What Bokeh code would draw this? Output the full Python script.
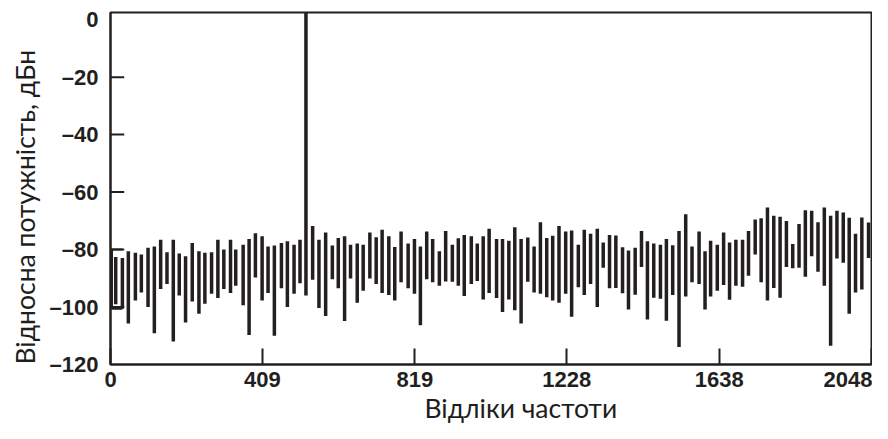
from bokeh.plotting import figure
from bokeh.models import Range1d, FixedTicker, Title
from bokeh.embed import file_html
from bokeh.resources import INLINE

# ---- data ----
freq = [14, 32, 48, 67, 83, 101, 118, 135, 152, 169, 185, 202, 220, 238, 254, 272, 289, 305, 323,
        337, 357, 373, 390, 408, 424, 441, 460, 476, 494, 510, 526, 544, 561, 579, 597, 613, 630, 646, 664,
        680, 698, 715, 731, 749, 765, 782, 801, 818, 834, 851, 867, 885, 902, 920, 936, 952, 971, 987, 1003,
        1019, 1039, 1055, 1072, 1088, 1105, 1123, 1140, 1157, 1174, 1190, 1207, 1225, 1241, 1259, 1275, 1292, 1310, 1326, 1343,
        1360, 1378, 1394, 1412, 1429, 1445, 1462, 1480, 1496, 1513, 1530, 1548, 1565, 1584, 1600, 1615, 1633, 1650, 1666, 1683,
        1701, 1717, 1735, 1751, 1768, 1785, 1802, 1819, 1836, 1853, 1870, 1887, 1904, 1921, 1938, 1955, 1972, 1988, 2005, 2022, 2040]

top = [-82.6, -82.9, -80.6, -81.1, -81.7, -79.4, -78.9, -76.6, -80.9, -76.6, -81.4, -82.3, -77.7, -80.6, -81.1, -80.9, -76.6, -80.0, -76.6,
       -80.0, -78.3, -76.3, -74.3, -75.4, -78.9, -78.6, -77.7, -77.1, -78.3, -76.6, 2.5, -71.8, -76.6, -74.1, -78.6, -76.0, -75.4, -78.3, -77.9,
       -78.3, -74.1, -75.7, -73.1, -75.4, -79.1, -73.7, -77.9, -76.3, -78.9, -73.7, -76.3, -80.6, -73.5, -78.3, -76.1, -74.9, -75.4, -77.9, -75.4,
       -72.8, -76.3, -76.3, -76.9, -72.2, -76.3, -75.8, -78.9, -70.5, -76.0, -75.2, -71.8, -73.7, -73.4, -78.3, -73.1, -74.5, -72.8, -77.5, -74.9,
       -75.1, -79.2, -80.3, -79.4, -73.5, -77.1, -77.9, -78.3, -76.3, -78.5, -73.5, -67.7, -78.9, -73.7, -80.6, -76.9, -78.3, -74.1, -77.5, -76.6,
       -76.6, -73.5, -69.5, -69.1, -65.4, -68.2, -68.6, -70.1, -78.1, -71.1, -66.3, -66.5, -70.5, -65.4, -68.2, -66.5, -67.1, -68.9, -74.5, -68.8, -70.6]

bottom = [-99.0, -100.6, -105.7, -97.7, -94.9, -100.0, -109.1, -93.7, -92.0, -112.0, -96.0, -105.4, -98.1, -102.3, -98.9, -95.4, -96.9, -93.7, -95.1,
          -92.6, -99.4, -109.7, -89.7, -97.7, -95.1, -110.0, -93.5, -100.0, -95.4, -91.7, -96.0, -90.5, -100.3, -103.1, -90.3, -93.5, -104.9, -90.1, -98.5,
          -94.3, -90.1, -92.0, -95.1, -95.8, -97.7, -91.4, -93.5, -95.4, -106.3, -90.3, -91.4, -92.6, -91.1, -91.2, -92.6, -96.2, -92.0, -90.9, -97.4,
          -95.1, -96.9, -101.7, -97.4, -101.1, -105.7, -91.2, -94.9, -95.4, -96.6, -97.7, -98.5, -95.4, -103.4, -93.1, -95.8, -92.0, -100.0, -86.3, -93.5,
          -93.4, -95.2, -100.9, -95.7, -86.1, -104.3, -96.8, -97.1, -104.8, -95.8, -113.9, -96.3, -91.4, -92.0, -100.9, -96.3, -94.3, -92.3, -97.5, -92.6,
          -92.9, -89.1, -81.7, -91.4, -97.7, -93.4, -96.8, -86.1, -86.5, -86.3, -89.5, -82.3, -87.7, -92.6, -113.5, -83.1, -84.6, -102.3, -94.9, -93.9, -82.9]

start_freq = [32, 4, 4, 32]
start_level = [-80.0, -80.0, -100.6, -100.6]

x_ticks = [0, 409, 819, 1228, 1638, 2048]
x_tick_labels = ["0", "409", "819", "1228", "1638", "2048"]
y_mark_ticks = [-20, -40, -60, -80, -100]
y_ticks = [0, -20, -40, -60, -80, -100, -120]
y_tick_labels = ["0", "–20", "–40", "–60", "–80", "–100", "–120"]

x_title = "Відліки частоти"
y_title = "Відносна потужність, дБн"

INK = "#231f20"
TITLE_INK = "#1e1e1e"

p = figure(width=872, height=423, output_backend="svg", toolbar_location=None,
           x_range=Range1d(0, 2048), y_range=Range1d(-120, 2.5),
           min_border_left=110, min_border_right=1, min_border_top=12, min_border_bottom=0)
p.xgrid.visible = False
p.ygrid.visible = False
p.background_fill_color = "white"
p.border_fill_color = "white"
p.outline_line_color = INK
p.outline_line_width = 2
p.outline_line_alpha = 1

p.segment(x0=freq, y0=bottom, x1=freq, y1=top, line_width=3.5, line_color=INK)
p.line(start_freq, start_level, line_width=2, line_color=INK)

# inward tick marks on the left axis, drawn from the tick values (about 14 px long)
tick_len = 37
p.segment(x0=[x_ticks[0]] * len(y_mark_ticks), y0=y_mark_ticks,
          x1=[x_ticks[0] + tick_len] * len(y_mark_ticks), y1=y_mark_ticks,
          line_width=2, line_color=INK, line_cap="butt")

tick_font = "Liberation Sans"

# x axis
xa = p.xaxis[0]
xa.ticker = FixedTicker(ticks=x_ticks)
xa.major_label_overrides = dict(zip(x_ticks, x_tick_labels))
xa.axis_line_color = INK
xa.axis_line_width = 2
xa.major_tick_line_color = INK
xa.major_tick_line_width = 2
xa.major_tick_in = 16
xa.major_tick_out = 0
xa.minor_tick_in = 0
xa.minor_tick_out = 0
xa.major_label_text_font = tick_font
xa.major_label_text_font_style = "bold"
xa.major_label_text_font_size = "22px"
xa.major_label_text_color = INK
xa.major_label_standoff = 7

# y axis
ya = p.yaxis[0]
ya.ticker = FixedTicker(ticks=y_ticks)
ya.major_label_overrides = dict(zip(y_ticks, y_tick_labels))
ya.axis_line_color = INK
ya.axis_line_width = 2
ya.major_tick_line_color = None
ya.major_tick_in = 0
ya.major_tick_out = 0
ya.minor_tick_in = 0
ya.minor_tick_out = 0
ya.minor_tick_line_color = None
ya.major_label_text_font = tick_font
ya.major_label_text_font_style = "bold"
ya.major_label_text_font_size = "22px"
ya.major_label_text_color = INK
ya.major_label_standoff = 12

# axis titles
p.add_layout(Title(text=y_title, align="left", offset=0, vertical_align="bottom", standoff=12,
                   text_font="Lato", text_font_style="normal", text_font_size="26.5px",
                   text_color=TITLE_INK), "left")
p.add_layout(Title(text=x_title, align="left", offset=314, vertical_align="bottom", standoff=0,
                   text_font="Lato", text_font_style="normal", text_font_size="26.5px",
                   text_color=TITLE_INK), "below")

open("out.html", "w").write(file_html(p, INLINE))
